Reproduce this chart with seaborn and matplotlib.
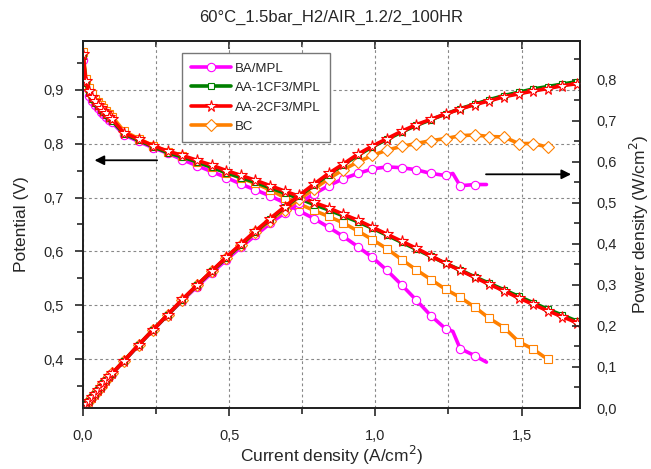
import matplotlib
matplotlib.use("Agg")
import matplotlib.pyplot as plt
from matplotlib.ticker import MultipleLocator, FuncFormatter
import seaborn as sns

# current density grid (A/cm2)
j_full = [0, 0.01, 0.02, 0.03, 0.04, 0.05, 0.06, 0.07, 0.08, 0.09, 0.10,
          0.14, 0.19, 0.24, 0.29, 0.34, 0.39, 0.44, 0.49, 0.54, 0.59, 0.64,
          0.69, 0.74, 0.79, 0.84, 0.89, 0.94, 0.99, 1.04, 1.09, 1.14, 1.19,
          1.24, 1.29, 1.34, 1.39, 1.44, 1.49, 1.54, 1.59, 1.64, 1.69]
j_ba = j_full[:34] + [1.265, 1.29, 1.34, 1.38]
j_bc = j_full[:41]

# potential (V)
v_ba = [0.955, 0.905, 0.889, 0.879, 0.871, 0.865, 0.859, 0.854, 0.849, 0.844, 0.839,
        0.816, 0.804, 0.792, 0.782, 0.770, 0.759, 0.748, 0.737, 0.725, 0.714, 0.703,
        0.690, 0.675, 0.661, 0.645, 0.628, 0.609, 0.589, 0.565, 0.538, 0.510, 0.481,
        0.457, 0.452, 0.420, 0.407, 0.395]
v_aa1 = [0.962, 0.912, 0.894, 0.883, 0.875, 0.869, 0.863, 0.858, 0.853, 0.847, 0.842,
         0.818, 0.806, 0.794, 0.783, 0.775, 0.766, 0.756, 0.746, 0.737, 0.728, 0.718,
         0.708, 0.698, 0.687, 0.677, 0.666, 0.655, 0.643, 0.630, 0.617, 0.604, 0.591,
         0.578, 0.566, 0.553, 0.541, 0.529, 0.517, 0.505, 0.493, 0.482, 0.471]
v_aa2 = [0.965, 0.915, 0.897, 0.886, 0.878, 0.872, 0.866, 0.861, 0.856, 0.850, 0.845,
         0.820, 0.808, 0.796, 0.786, 0.778, 0.769, 0.760, 0.750, 0.741, 0.732, 0.722,
         0.712, 0.702, 0.691, 0.681, 0.669, 0.658, 0.645, 0.632, 0.619, 0.606, 0.592,
         0.578, 0.565, 0.552, 0.539, 0.527, 0.514, 0.502, 0.490, 0.479, 0.468]
v_bc = [0.970, 0.920, 0.902, 0.891, 0.883, 0.877, 0.871, 0.865, 0.860, 0.855, 0.850,
        0.823, 0.809, 0.796, 0.785, 0.776, 0.766, 0.756, 0.746, 0.736, 0.726, 0.714,
        0.700, 0.688, 0.676, 0.665, 0.653, 0.638, 0.622, 0.605, 0.585, 0.566, 0.548,
        0.530, 0.515, 0.497, 0.476, 0.459, 0.433, 0.419, 0.400]

# power density (W/cm2)
p_ba = [0, 0.009, 0.018, 0.026, 0.035, 0.043, 0.052, 0.060, 0.068, 0.076, 0.084,
        0.114, 0.153, 0.190, 0.227, 0.262, 0.296, 0.329, 0.361, 0.392, 0.421, 0.450,
        0.476, 0.500, 0.522, 0.542, 0.559, 0.572, 0.583, 0.588, 0.586, 0.581, 0.572,
        0.567, 0.572, 0.542, 0.545, 0.545]
p_aa1 = [0, 0.009, 0.018, 0.026, 0.035, 0.043, 0.052, 0.060, 0.068, 0.076, 0.084,
         0.115, 0.153, 0.191, 0.227, 0.264, 0.299, 0.333, 0.366, 0.398, 0.430, 0.460,
         0.489, 0.517, 0.543, 0.569, 0.593, 0.616, 0.637, 0.655, 0.673, 0.689, 0.703,
         0.717, 0.730, 0.741, 0.752, 0.762, 0.770, 0.778, 0.784, 0.790, 0.796]
p_aa2 = [0, 0.009, 0.018, 0.027, 0.035, 0.044, 0.052, 0.060, 0.068, 0.077, 0.085,
         0.115, 0.154, 0.191, 0.228, 0.265, 0.300, 0.334, 0.368, 0.400, 0.432, 0.462,
         0.491, 0.519, 0.546, 0.572, 0.595, 0.619, 0.639, 0.657, 0.675, 0.691, 0.704,
         0.717, 0.729, 0.740, 0.749, 0.759, 0.766, 0.773, 0.779, 0.786, 0.791]
p_bc = [0, 0.009, 0.018, 0.027, 0.035, 0.044, 0.052, 0.061, 0.069, 0.077, 0.085,
        0.115, 0.154, 0.191, 0.228, 0.264, 0.299, 0.333, 0.366, 0.397, 0.428, 0.457,
        0.483, 0.509, 0.534, 0.559, 0.581, 0.600, 0.616, 0.629, 0.638, 0.645, 0.652,
        0.657, 0.664, 0.666, 0.662, 0.661, 0.645, 0.645, 0.636]

labels = ["BA/MPL", "AA-1CF3/MPL", "AA-2CF3/MPL", "BC"]
colors = ["#ff00ff", "#008000", "#ff0000", "#ff8000"]

sns.set_style("ticks")
plt.rcParams["font.family"] = ["Liberation Sans", "DejaVu Sans"]

fig = plt.figure(figsize=(6.51, 4.69), dpi=100)
ax = fig.add_axes([83 / 651, 61 / 469, 497 / 651, 367 / 469])
ax2 = ax.twinx()

ba_marks = list(range(34)) + [35, 36]

def draw(axis, x, y, color, marker, ms, markevery=None, label=None):
    sns.lineplot(x=x, y=y, ax=axis, color=color, lw=2.6, marker=marker, ms=ms,
                 mfc="white", mec=color, mew=0.8, markevery=markevery,
                 estimator=None, sort=False, legend=False, label=label)
    return axis.lines[-1]

# polarization curves
draw(ax, j_ba, v_ba, colors[0], "o", 6, ba_marks)
draw(ax, j_bc, v_bc, colors[3], "s", 6)
draw(ax, j_full, v_aa1, colors[1], "s", 5)
draw(ax, j_full, v_aa2, colors[2], "*", 8.5)

# power curves
h_ba = draw(ax2, j_ba, p_ba, colors[0], "o", 6, ba_marks, labels[0])
h_bc = draw(ax2, j_bc, p_bc, colors[3], "D", 6, None, labels[3])
h_aa1 = draw(ax2, j_full, p_aa1, colors[1], "s", 5, None, labels[1])
h_aa2 = draw(ax2, j_full, p_aa2, colors[2], "*", 8.5, None, labels[2])

comma = FuncFormatter(lambda v, p: f"{v:.1f}".replace(".", ","))

ax.set_xlim(0, 1.70)
ax.set_ylim(0.31, 0.99)
ax2.set_ylim(0, 0.895)

ax.xaxis.set_major_locator(MultipleLocator(0.5))
ax.xaxis.set_minor_locator(MultipleLocator(0.25))
ax.yaxis.set_major_locator(MultipleLocator(0.1))
ax.yaxis.set_minor_locator(MultipleLocator(0.05))
ax2.yaxis.set_major_locator(MultipleLocator(0.1))
ax2.yaxis.set_minor_locator(MultipleLocator(0.05))
ax.xaxis.set_major_formatter(comma)
ax.yaxis.set_major_formatter(comma)
ax2.yaxis.set_major_formatter(comma)

ax.tick_params(axis="both", which="major", direction="out", length=6, width=1.2,
               labelsize=10.5, pad=8)
ax.tick_params(axis="both", which="minor", direction="out", length=4, width=1.2)
ax.tick_params(axis="x", pad=9)
ax2.tick_params(axis="y", which="major", direction="in", length=6, width=1.2,
                labelsize=10.5, pad=12)
ax2.tick_params(axis="y", which="minor", direction="in", length=4, width=1.2)

top = ax.secondary_xaxis("top")
top.xaxis.set_major_locator(MultipleLocator(0.5))
top.xaxis.set_minor_locator(MultipleLocator(0.25))
top.tick_params(which="major", direction="in", length=6, width=1.2, labeltop=False)
top.tick_params(which="minor", direction="in", length=4, width=1.2)
top.spines["top"].set_linewidth(1.3)

ax.grid(True, axis="x", which="both", ls=(0, (2.5, 2.5)), color="#888888", lw=0.8)
ax.grid(True, axis="y", which="major", ls=(0, (2.5, 2.5)), color="#888888", lw=0.8)

for a in (ax, ax2):
    for s in a.spines.values():
        s.set_linewidth(1.3)
        s.set_color("#222222")

ax.set_xlabel("Current density (A/cm$^2$)", fontsize=12.5, labelpad=1)
ax.set_ylabel("Potential (V)", fontsize=12.5, labelpad=10)
ax2.set_ylabel("Power density (W/cm$^2$)", fontsize=12.5, labelpad=8)
ax.set_title("60°C_1.5bar_H2/AIR_1.2/2_100HR", fontsize=12, pad=14)

arrow = dict(arrowstyle="-|>", color="black", lw=1.3, mutation_scale=14)
ax.annotate("", xy=(0.03, 0.769), xytext=(0.263, 0.769), arrowprops=arrow)
ax.annotate("", xy=(1.679, 0.743), xytext=(1.369, 0.743), arrowprops=arrow)

leg = ax2.legend(handles=[h_ba, h_aa1, h_aa2, h_bc], labels=labels,
                 loc="upper left", bbox_to_anchor=(0.199, 0.967), borderaxespad=0,
                 fontsize=9.5, frameon=True, fancybox=False, framealpha=1,
                 edgecolor="#777777", handlelength=3.0, handletextpad=0.3,
                 borderpad=0.7, labelspacing=0.55)
leg.get_frame().set_linewidth(1.0)

fig.savefig("out.png", dpi=100)
